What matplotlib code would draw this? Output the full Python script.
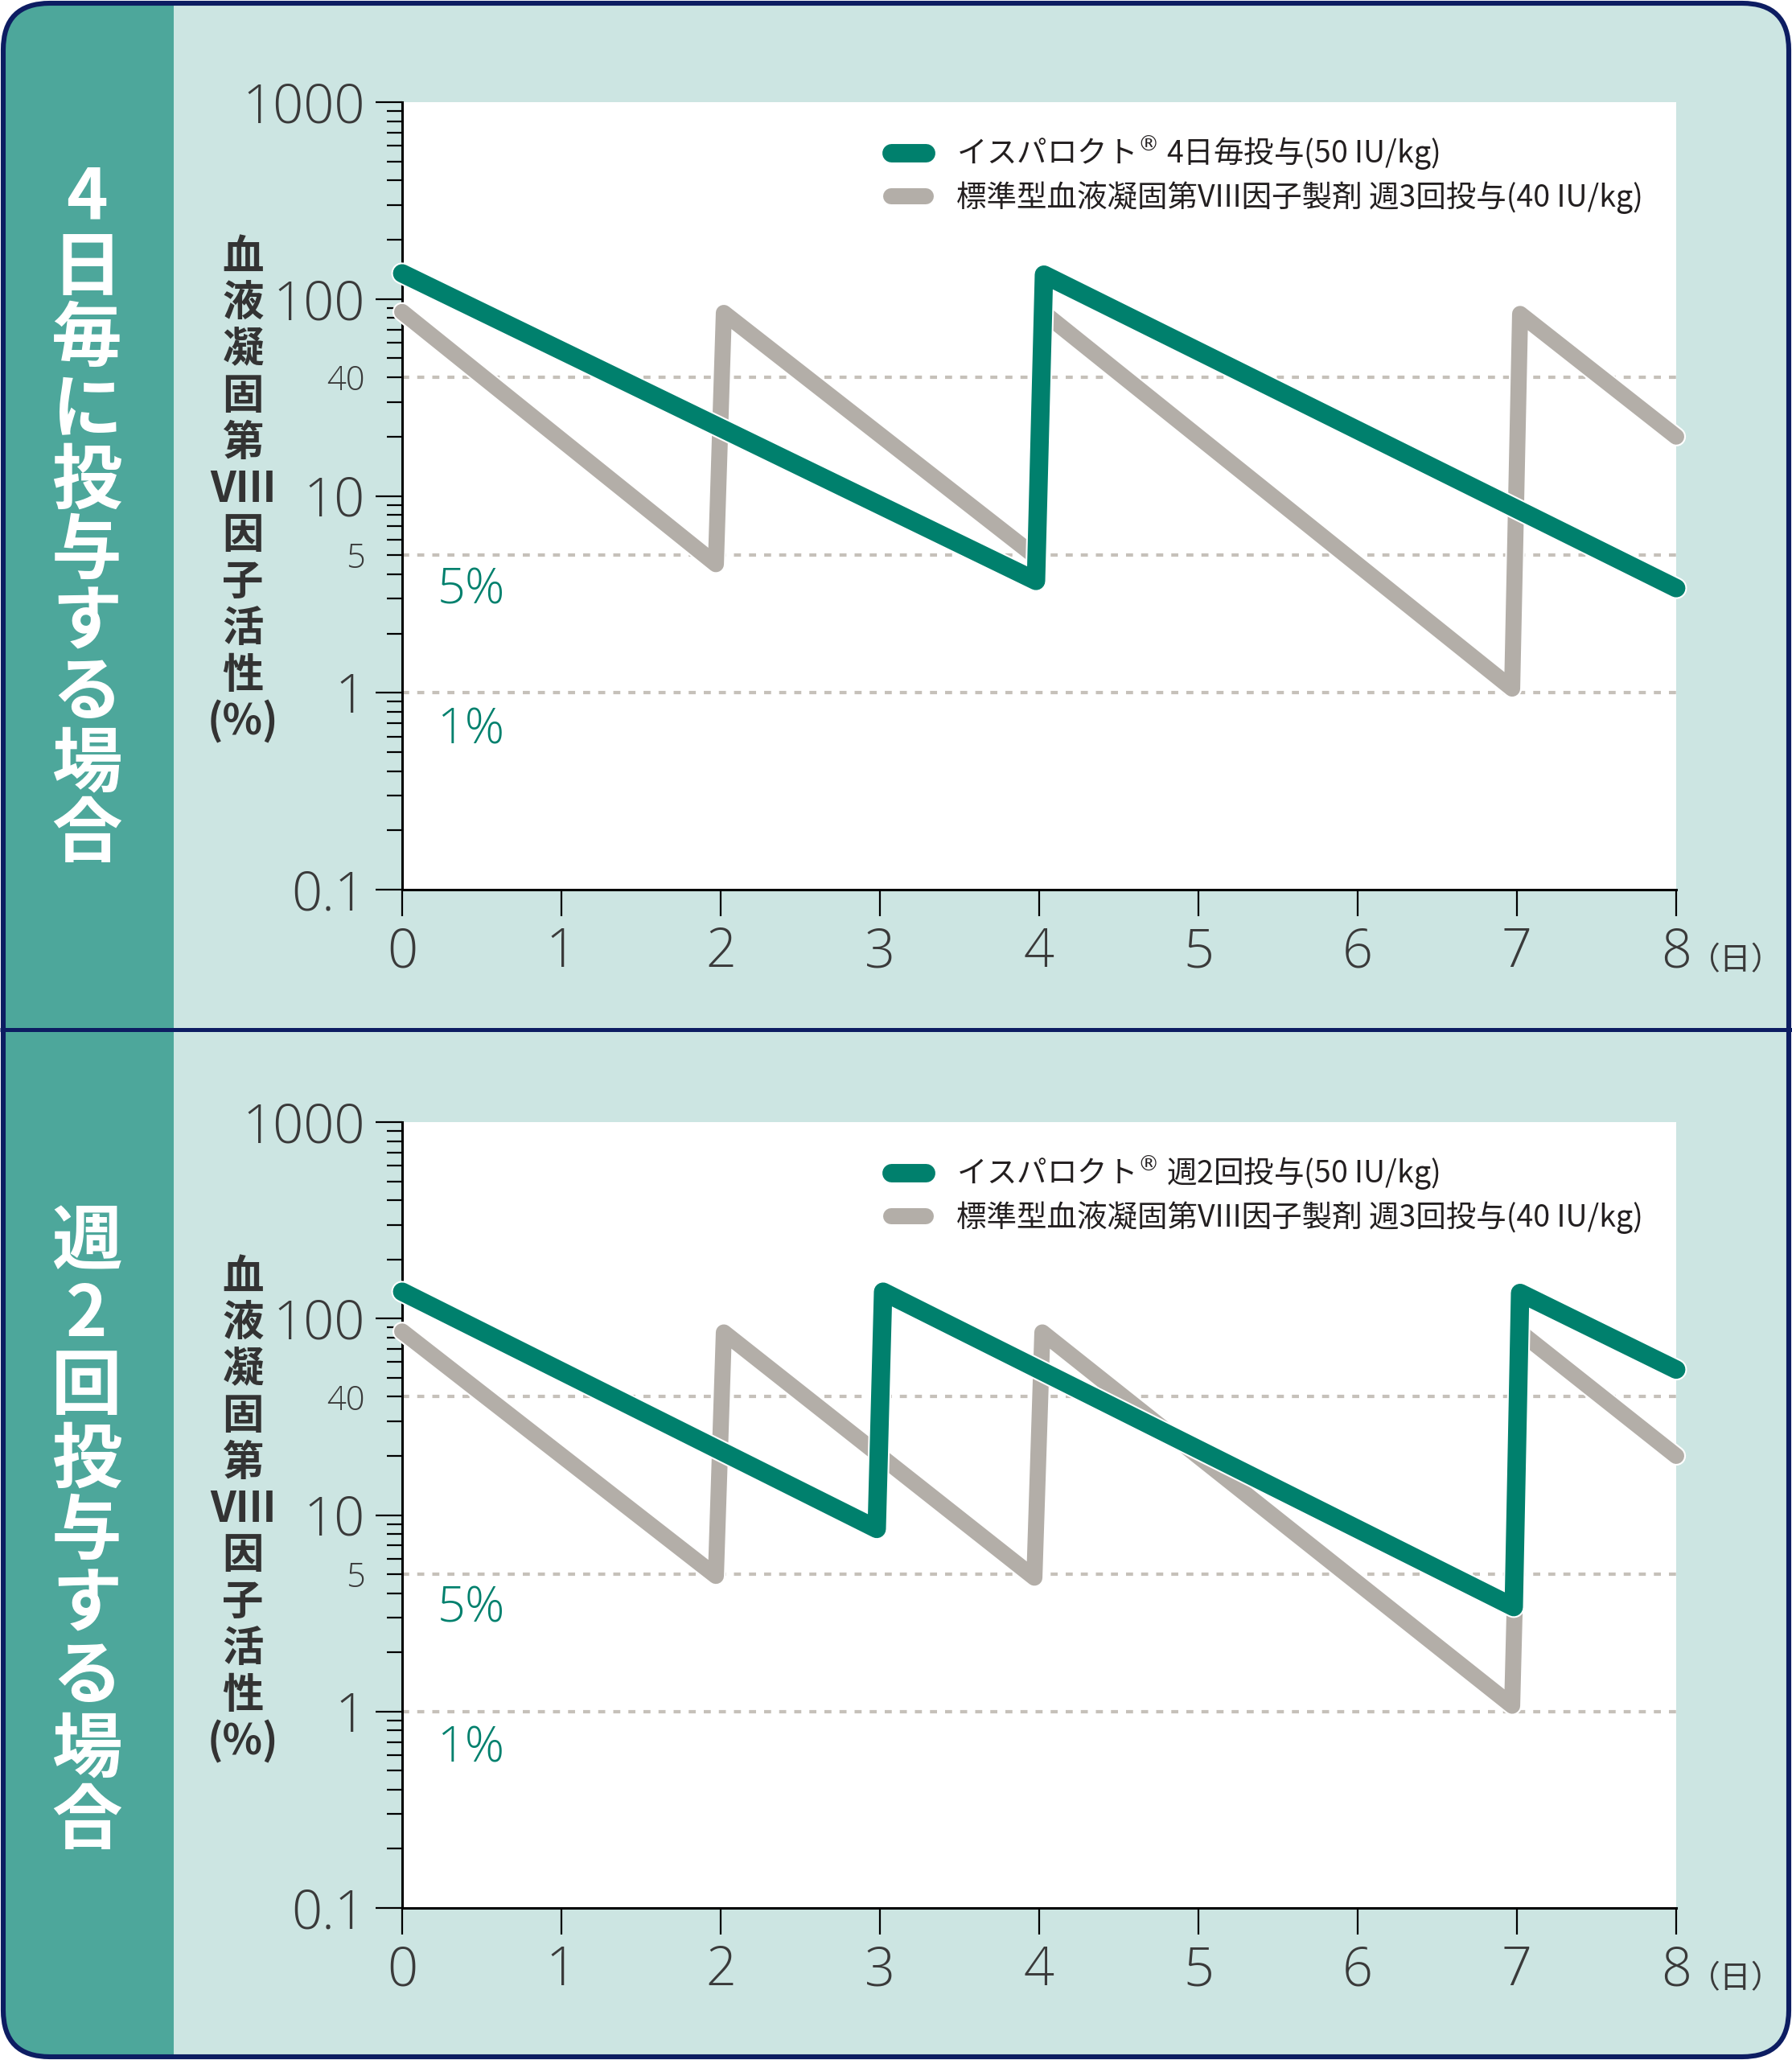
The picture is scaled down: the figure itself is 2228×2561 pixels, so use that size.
import matplotlib
matplotlib.use("Agg")
import matplotlib.pyplot as plt
import matplotlib.patheffects as pe
import matplotlib.transforms as mtrans
from matplotlib.patches import FancyBboxPatch, Rectangle

W, H = 2228, 2561
DPI = 100

# ---- data ----
day_ticks = [0, 1, 2, 3, 4, 5, 6, 7, 8]
major_y = [0.1, 1, 10, 100, 1000]
major_y_labels = ["0.1", "1", "10", "100", "1000"]
ref_levels = [40, 5, 1]
ref_notes = [(5, "5%", 3.3), (1, "1%", 0.64)]

# panel 1: every 4 days
p1_esp_days = [0, 3.98, 4.03, 8]
p1_esp_vals = [135, 3.7, 133, 3.4]
p1_std_days = [0, 1.97, 2.02, 3.98, 4.03, 6.97, 7.02, 8]
p1_std_vals = [86, 4.5, 85, 4.9, 85, 1.05, 84, 20]

# panel 2: twice a week
p2_esp_days = [0, 2.98, 3.02, 6.98, 7.02, 8]
p2_esp_vals = [137, 8.5, 137, 3.4, 135, 55]
p2_std_days = [0, 1.97, 2.02, 3.97, 4.02, 6.97, 7.03, 8]
p2_std_vals = [86, 4.9, 85, 4.8, 85, 1.07, 84, 20]

side_titles = ["4日毎に投与する場合", "週2回投与する場合"]
legend_esp = ["イスパロクト$^{®}$ 4日毎投与(50 IU/kg)",
              "イスパロクト$^{®}$ 週2回投与(50 IU/kg)"]
legend_std = "標準型血液凝固第VIII因子製剤 週3回投与(40 IU/kg)"
ylabel_rows = ["血", "液", "凝", "固", "第", "VIII", "因", "子", "活", "性", "(%)"]
x_unit = "（日）"

# ---- colours ----
NAVY = "#0d1d62"
TEAL = "#4da79b"
PANEL = "#cce5e2"
GREEN = "#00806d"
GRAY = "#b3aea8"
DASH = "#c6c1ba"
TXT = "#3a3a3a"

JP = "Noto Sans CJK JP"
NUM = "Open Sans"

plt.rcParams['font.family'] = [NUM, JP, 'DejaVu Sans']

fig = plt.figure(figsize=(W / DPI, H / DPI), dpi=DPI, facecolor="white")

# background in pixel coordinates
bg = fig.add_axes([0, 0, 1, 1])
bg.set_xlim(0, W)
bg.set_ylim(H, 0)
bg.axis("off")

outer = FancyBboxPatch((4, 4), W - 8, H - 8, boxstyle="round,pad=0,rounding_size=58",
                       fc=PANEL, ec="none")
bg.add_patch(outer)
side = Rectangle((0, 0), 216, H, fc=TEAL, ec="none")
bg.add_patch(side)
side.set_clip_path(outer)
bg.plot([0, W], [1280, 1280], color=NAVY, lw=3.6, solid_capstyle="butt")
bg.add_patch(FancyBboxPatch((4, 4), W - 8, H - 8, boxstyle="round,pad=0,rounding_size=58",
                            fc="none", ec=NAVY, lw=4.4))

panels = [
    dict(top=127, bottom=1106, esp=(p1_esp_days, p1_esp_vals), std=(p1_std_days, p1_std_vals),
         title=side_titles[0], t0=247, tstep=88, label=legend_esp[0]),
    dict(top=1395, bottom=2372, esp=(p2_esp_days, p2_esp_vals), std=(p2_std_days, p2_std_vals),
         title=side_titles[1], t0=1546, tstep=90, label=legend_esp[1]),
]

minor_y = [k * 10.0 ** e for e in range(-1, 3) for k in range(2, 10)]
minor_labels = ["40" if abs(v - 40) < 1e-9 else ("5" if abs(v - 5) < 1e-9 else "") for v in minor_y]

for p in panels:
    ax = fig.add_axes([500 / W, 1 - p["bottom"] / H, 1584 / W, (p["bottom"] - p["top"]) / H])
    ax.set_facecolor("white")
    ax.set_yscale("log")
    ax.set_xlim(0, 8)
    ax.set_ylim(0.1, 1000)
    for s in ["top", "right"]:
        ax.spines[s].set_visible(False)
    for s in ["left", "bottom"]:
        ax.spines[s].set_linewidth(2.2)
        ax.spines[s].set_color("black")

    ax.set_xticks(day_ticks, [str(d) for d in day_ticks])
    ax.set_yticks(major_y, major_y_labels)
    ax.set_yticks(minor_y, minor_labels, minor=True)
    ax.tick_params(axis="x", length=24, width=1.6, pad=9, labelsize=48, labelcolor=TXT)
    ax.tick_params(axis="y", which="major", length=24, width=1.6, pad=9, labelsize=48, labelcolor=TXT)
    ax.tick_params(axis="y", which="minor", length=14, width=1.6, pad=19, labelsize=30, labelcolor=TXT)
    for lab in ax.get_xticklabels() + ax.get_yticklabels() + ax.get_yticklabels(minor=True):
        lab.set_fontweight("light")

    for v in ref_levels:
        ax.axhline(v, color=DASH, lw=3.0, ls=(0, (2.1, 2.4)), zorder=1)
    for v, txt, yv in ref_notes:
        ax.text(0.22, yv, txt, color=GREEN, fontsize=44, fontweight="light",
                ha="left", va="center", zorder=2)

    g_std, = ax.plot(*p["std"], color=GRAY, lw=14.4, solid_capstyle="round",
                     solid_joinstyle="round", clip_on=False, zorder=3,
                     path_effects=[pe.Stroke(linewidth=17.5, foreground="white"), pe.Normal()])
    g_esp, = ax.plot(*p["esp"], color=GREEN, lw=16.5, solid_capstyle="round",
                     solid_joinstyle="round", clip_on=False, zorder=4,
                     path_effects=[pe.Stroke(linewidth=19.5, foreground="white"), pe.Normal()])

    ax.legend([g_esp, g_std], [p["label"], legend_std], loc="upper left",
              bbox_to_anchor=(0.384, 0.959), frameon=False, handlelength=1.15,
              handletextpad=1.0, borderpad=0, borderaxespad=0, labelspacing=0.3,
              prop={"family": JP, "size": 27}, labelcolor="#231f20")

    tr = mtrans.blended_transform_factory(ax.transData, ax.transAxes)
    ax.text(8.08, -0.09, x_unit, transform=tr, fontsize=28, family=JP, color=TXT,
            ha="left", va="center", clip_on=False)

    # vertical y label
    off = p["top"] - 127
    for i, s in enumerate(ylabel_rows):
        bg.text(302, 319 + off + i * 57.8, s, ha="center", va="center", fontsize=37,
                fontweight="bold", family=JP, color="#333333")

    # side title
    for i, ch in enumerate(p["title"]):
        bg.text(108, p["t0"] + i * p["tstep"], ch, ha="center", va="center", fontsize=63,
                fontweight="bold", family=JP, color="white")

fig.savefig("out.png", dpi=DPI, facecolor=fig.get_facecolor())
